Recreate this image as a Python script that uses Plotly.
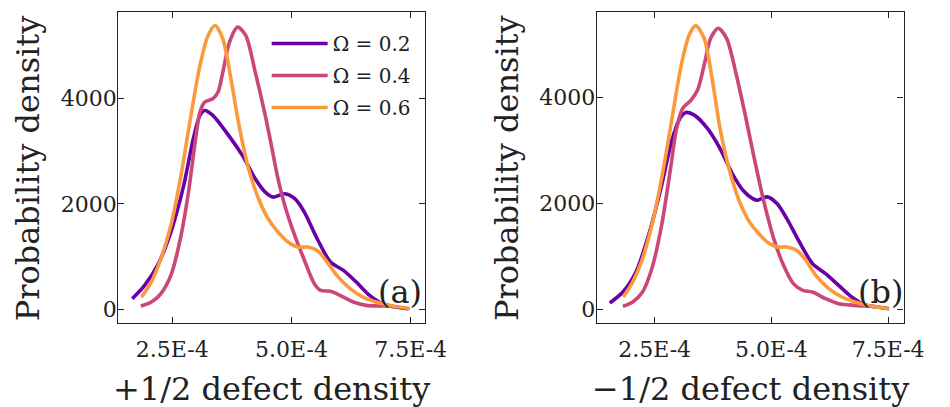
import plotly.graph_objects as go

# ---------------- data (x in units of 1e-4) ----------------
labels = ["Ω = 0.2", "Ω = 0.4", "Ω = 0.6"]
colors = ["#6a00a8", "#cb4679", "#fa9a3c"]

# panel (a): +1/2 defect density
a_x_02 = [1.66, 1.92, 2.19, 2.47, 2.74, 2.94, 3.08, 3.18, 3.35, 3.63, 3.97, 4.24, 4.45, 4.62,
          4.86, 5.07, 5.27, 5.54, 5.82, 6.09, 6.36, 6.64, 6.91, 7.18, 7.45]
a_y_02 = [208, 460, 838, 1468, 2350, 3232, 3673, 3767, 3673, 3358, 2917, 2476, 2224, 2129,
          2192, 2098, 1846, 1342, 901, 743, 523, 271, 113, 50, 19]
a_x_04 = [1.84, 2.06, 2.26, 2.47, 2.67, 2.84, 2.98, 3.08, 3.18, 3.35, 3.46, 3.56, 3.70, 3.87,
          4.04, 4.24, 4.45, 4.58, 4.70, 4.86, 5.07, 5.27, 5.48, 5.61, 5.82, 6.02, 6.30, 6.57,
          6.91, 7.10]
a_y_04 = [69, 145, 302, 649, 1342, 2224, 3169, 3736, 3925, 3988, 4114, 4492, 5059, 5342,
          5185, 4492, 3673, 3100, 2550, 1972, 1400, 940, 491, 365, 347, 271, 145, 82,
          69, 66]
a_x_06 = [1.85, 2.06, 2.26, 2.47, 2.67, 2.88, 3.08, 3.25, 3.40, 3.56, 3.73, 3.90, 4.10, 4.31,
          4.51, 4.72, 4.93, 5.13, 5.34, 5.54, 5.75, 5.95, 6.23, 6.50, 6.77, 7.12, 7.49]
a_y_06 = [239, 523, 964, 1594, 2476, 3610, 4618, 5185, 5374, 5122, 4366, 3484, 2665, 2098,
          1720, 1468, 1279, 1184, 1184, 1121, 901, 649, 397, 239, 145, 69, 19]

# panel (b): -1/2 defect density
b_x_02 = [1.54, 1.82, 2.10, 2.37, 2.65, 2.86, 3.04, 3.17, 3.35, 3.63, 3.90, 4.18, 4.39, 4.60,
          4.70, 4.91, 5.12, 5.33, 5.60, 5.88, 6.16, 6.44, 6.72, 6.99, 7.27, 7.52]
b_y_02 = [126, 333, 710, 1400, 2342, 3159, 3598, 3711, 3661, 3410, 3033, 2531, 2248, 2091,
          2060, 2123, 1997, 1714, 1275, 867, 678, 458, 239, 94, 50, 19]
b_x_04 = [1.82, 2.03, 2.24, 2.44, 2.65, 2.83, 2.97, 3.10, 3.28, 3.42, 3.56, 3.70, 3.86, 4.04,
          4.25, 4.46, 4.62, 4.84, 5.05, 5.26, 5.47, 5.67, 5.88, 6.16, 6.44, 6.79, 7.06]
b_y_04 = [63, 144, 333, 772, 1589, 2594, 3410, 3787, 3944, 4132, 4603, 5106, 5294, 5106,
          4415, 3580, 2900, 2028, 1338, 835, 490, 364, 333, 207, 113, 82, 69]
b_x_06 = [1.83, 2.03, 2.24, 2.44, 2.65, 2.86, 3.07, 3.24, 3.38, 3.56, 3.73, 3.90, 4.11, 4.32,
          4.53, 4.70, 4.91, 5.12, 5.33, 5.54, 5.74, 5.95, 6.23, 6.51, 6.79, 7.13, 7.52]
b_y_06 = [239, 521, 961, 1589, 2468, 3536, 4603, 5168, 5344, 5106, 4352, 3410, 2594, 2028,
          1652, 1463, 1275, 1181, 1181, 1118, 929, 647, 396, 239, 144, 69, 19]

x_tickvals = [2.5e-4, 5.0e-4, 7.5e-4]
x_ticktext = ["2.5E-4", "5.0E-4", "7.5E-4"]
y_tickvals = [0, 2000, 4000]
x_titles = ["+1/2 defect density", "−1/2 defect density"]
y_title = "Probability density"
panel_tags = ["(a)", "(b)"]

panels = [
    [(a_x_02, a_y_02), (a_x_04, a_y_04), (a_x_06, a_y_06)],
    [(b_x_02, b_y_02), (b_x_04, b_y_04), (b_x_06, b_y_06)],
]

# ---------------- figure ----------------
W, H = 950, 407
FONT = "DejaVu Serif"
INK = "#222"
fig = go.Figure()

for p, series in enumerate(panels):
    xa = "x" if p == 0 else "x2"
    ya = "y" if p == 0 else "y2"
    for i, (xs, ys) in enumerate(series):
        fig.add_trace(go.Scatter(
            x=[v * 1e-4 for v in xs], y=ys, mode="lines",
            line=dict(color=colors[i], width=3.6, shape="spline", smoothing=0.8),
            name=labels[i], showlegend=(p == 0), legendgroup="g%d" % i,
            xaxis=xa, yaxis=ya,
        ))

left_dom = [121 / W, 435 / W]
right_dom = [611 / W, 925 / W]
y_dom = [(H - 323) / H, (H - 12) / H]

axis_common = dict(
    showline=True, linecolor=INK, linewidth=1.3, mirror="ticks",
    ticks="inside", ticklen=6, tickwidth=1.2, tickcolor=INK,
    showgrid=False, zeroline=False,
    tickfont=dict(family=FONT, size=22, color=INK),
)
xcommon = dict(ticklabelstandoff=6, **axis_common)
ycommon = dict(ticklabelstandoff=-4, **axis_common)

fig.update_layout(
    width=W, height=H, autosize=False,
    margin=dict(l=0, r=0, t=0, b=0, pad=0),
    paper_bgcolor="white", plot_bgcolor="white",
    xaxis=dict(domain=left_dom, range=[1.365e-4, 7.80e-4], tickvals=x_tickvals,
               ticktext=x_ticktext, anchor="y", **xcommon),
    yaxis=dict(domain=y_dom, range=[-251, 5628], tickvals=y_tickvals, anchor="x",
               **ycommon),
    xaxis2=dict(domain=right_dom, range=[1.263e-4, 7.83e-4], tickvals=x_tickvals,
                ticktext=x_ticktext, anchor="y2", **xcommon),
    yaxis2=dict(domain=y_dom, range=[-250, 5601], tickvals=y_tickvals, anchor="x2",
                **ycommon),
    legend=dict(x=273 / W, y=1 - 24 / H, xanchor="left", yanchor="top",
                bgcolor="rgba(0,0,0,0)", font=dict(family=FONT, size=20, color=INK),
                tracegroupgap=3, itemwidth=56, traceorder="grouped"),
    showlegend=True,
)

ann = []
for k, cx in enumerate((278, 768)):
    ann.append(dict(text=x_titles[k], x=cx / W, y=1 - 389 / H, xref="paper", yref="paper",
                    xanchor="center", yanchor="middle", showarrow=False,
                    font=dict(family=FONT, size=32, color=INK)))
for cx in (29, 519):
    ann.append(dict(text=y_title, x=cx / W, y=1 - 168 / H, xref="paper", yref="paper",
                    xanchor="center", yanchor="middle", textangle=-90, showarrow=False,
                    font=dict(family=FONT, size=32, color=INK)))
for k, rx in enumerate((434, 926)):
    ann.append(dict(text=panel_tags[k], x=rx / W, y=1 - 292 / H, xref="paper", yref="paper",
                    xanchor="right", yanchor="middle", showarrow=False,
                    font=dict(family=FONT, size=32, color=INK)))
fig.update_layout(annotations=ann)

fig.write_html("out.html", config={"displayModeBar": False},
               post_script="document.body.style.margin='0';document.body.style.padding='0';")
